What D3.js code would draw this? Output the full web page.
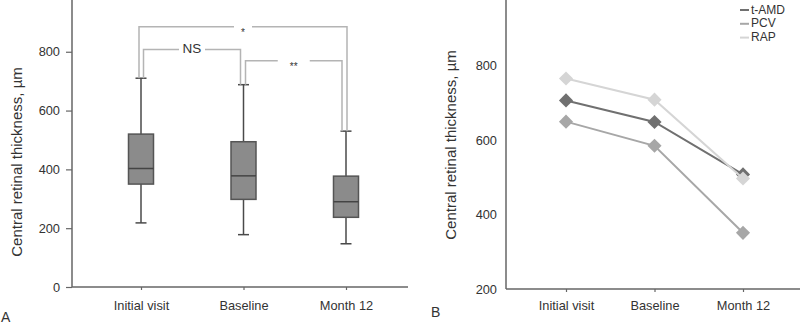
<!DOCTYPE html>
<html>
<head>
<meta charset="utf-8">
<script src="https://cdn.jsdelivr.net/npm/d3@7"></script>
<style>
  body { margin: 0; background: #fff; }
  svg { display: block; font-family: "Liberation Sans", Arial, sans-serif; }
</style>
</head>
<body>
<svg id="chart" width="800" height="326"></svg>
<script>
// ---- data ----
const visits = ['Initial visit', 'Baseline', 'Month 12'];

// box plot stats (panel A)
const whiskerLow  = [218, 178, 147];
const q1          = [350, 298, 237];
const median      = [403, 378, 290];
const q3          = [520, 494, 377];
const whiskerHigh = [710, 688, 530];
const yTicksA = [0, 200, 400, 600, 800];

// significance brackets (panel A): from / to index, bracket height, label
const brFrom  = [0, 0, 1];
const brTo    = [2, 1, 2];
const brLevel = [885, 808, 769];
const brLabel = ['*', 'NS', '**'];

// mean thickness per group (panel B)
const groups = ['t-AMD', 'PCV', 'RAP'];
const tAMD = [707, 649, 508];
const PCV  = [650, 585, 351];
const RAP  = [766, 709, 497];
const yTicksB = [200, 400, 600, 800];

const svg = d3.select('#chart');
const axisCol = '#666';
const textCol = '#333';
const tickFont = '12.8px';
const titleFont = '15px';

function styleText(g, size) {
    g.selectAll('text').attr('fill', textCol).style('font-size', size)
        .style('font-family', '"Liberation Sans", Arial, sans-serif');
}

// ---------- Panel A ----------
const xA = d3.scalePoint().domain(visits).range([141, 346]);
const yA = d3.scaleLinear().domain([0, 976]).range([287, 0]);

const gA = svg.append('g');

// axes
gA.append('line').attr('x1', 72).attr('x2', 72).attr('y1', 0).attr('y2', yA(0))
    .attr('stroke', axisCol).attr('stroke-width', 1.5);
gA.append('line').attr('x1', 72).attr('x2', 408).attr('y1', yA(0)).attr('y2', yA(0))
    .attr('stroke', axisCol).attr('stroke-width', 1.5);

const yaxisA = d3.axisLeft(yA).tickValues(yTicksA).tickSize(6).tickPadding(6);
gA.append('g').attr('transform', 'translate(72,0)').call(yaxisA)
    .call(g => g.select('.domain').remove())
    .call(g => g.selectAll('line').attr('stroke', axisCol).attr('stroke-width', 1.2))
    .call(g => styleText(g, tickFont));

const xaxisA = d3.axisBottom(xA).tickSize(3).tickPadding(11);
gA.append('g').attr('transform', `translate(0,${yA(0)})`).call(xaxisA)
    .call(g => g.select('.domain').remove())
    .call(g => g.selectAll('line').attr('stroke', axisCol).attr('stroke-width', 1.2))
    .call(g => styleText(g, tickFont));

gA.append('text')
    .attr('transform', `translate(18, 162) rotate(-90)`)
    .attr('text-anchor', 'middle')
    .attr('dominant-baseline', 'middle')
    .attr('fill', textCol)
    .style('font-size', titleFont)
    .text('Central retinal thickness, µm');

// boxes
const boxW = 25, capW = 11;
visits.forEach((v, i) => {
    const cx = xA(v);
    const g = gA.append('g');
    g.append('line').attr('x1', cx).attr('x2', cx).attr('y1', yA(whiskerHigh[i])).attr('y2', yA(whiskerLow[i]))
        .attr('stroke', '#4a4a4a').attr('stroke-width', 1.5);
    [whiskerHigh[i], whiskerLow[i]].forEach(w => {
        g.append('line').attr('x1', cx - capW / 2).attr('x2', cx + capW / 2)
            .attr('y1', yA(w)).attr('y2', yA(w))
            .attr('stroke', '#4a4a4a').attr('stroke-width', 1.5);
    });
    g.append('rect').attr('x', cx - boxW / 2).attr('width', boxW)
        .attr('y', yA(q3[i])).attr('height', yA(q1[i]) - yA(q3[i]))
        .attr('fill', '#8b8b8b').attr('stroke', '#555').attr('stroke-width', 1.5);
    g.append('line').attr('x1', cx - boxW / 2).attr('x2', cx + boxW / 2)
        .attr('y1', yA(median[i])).attr('y2', yA(median[i]))
        .attr('stroke', '#444').attr('stroke-width', 1.5);
});

// brackets
const brDx = [[-2, 1], [2.5, -3], [2, -4]];
const brGap = [9, 13, 16];
const brSize = [10, 13.5, 10];
brLabel.forEach((lab, i) => {
    const x1 = xA(visits[brFrom[i]]) + brDx[i][0];
    const x2 = xA(visits[brTo[i]]) + brDx[i][1];
    const yb = yA(brLevel[i]);
    const mid = (x1 + x2) / 2;
    const y1 = yA(whiskerHigh[brFrom[i]]);
    const y2 = yA(whiskerHigh[brTo[i]]);
    const p = `M${x1},${y1}V${yb}H${mid - brGap[i]}M${mid + brGap[i]},${yb}H${x2}V${y2}`;
    gA.append('path').attr('d', p).attr('fill', 'none')
        .attr('stroke', '#b4b4b4').attr('stroke-width', 1.5);
    const t = gA.append('text').attr('x', mid).attr('text-anchor', 'middle')
        .attr('fill', textCol).style('font-size', brSize[i] + 'px').text(lab);
    if (lab === 'NS') t.attr('y', yb + 0.5).attr('dominant-baseline', 'middle');
    else t.attr('y', yb + 9);
});

svg.append('text').attr('x', 1).attr('y', 322).attr('fill', textCol)
    .style('font-size', '14px').text('A');

// ---------- Panel B ----------
const xB = d3.scalePoint().domain(visits).range([566, 743]);
const yB = d3.scaleLinear().domain([200, 977]).range([289, 0]);

const gB = svg.append('g');
gB.append('line').attr('x1', 506).attr('x2', 506).attr('y1', 0).attr('y2', yB(200))
    .attr('stroke', axisCol).attr('stroke-width', 1.5);
gB.append('line').attr('x1', 506).attr('x2', 800).attr('y1', yB(200)).attr('y2', yB(200))
    .attr('stroke', axisCol).attr('stroke-width', 1.5);

const yaxisB = d3.axisLeft(yB).tickValues(yTicksB).tickSize(0).tickPadding(9);
gB.append('g').attr('transform', 'translate(506,0)').call(yaxisB)
    .call(g => g.select('.domain').remove())
    .call(g => styleText(g, tickFont));

const xaxisB = d3.axisBottom(xB).tickSize(3).tickPadding(9);
gB.append('g').attr('transform', `translate(0,${yB(200)})`).call(xaxisB)
    .call(g => g.select('.domain').remove())
    .call(g => g.selectAll('line').attr('stroke', axisCol).attr('stroke-width', 1.2))
    .call(g => styleText(g, tickFont));

gB.append('text')
    .attr('transform', `translate(452, 145) rotate(-90)`)
    .attr('text-anchor', 'middle')
    .attr('dominant-baseline', 'middle')
    .attr('fill', textCol)
    .style('font-size', titleFont)
    .text('Central retinal thickness, µm');

const series = [tAMD, PCV, RAP];
const colors = ['#707070', '#a7a7a7', '#d5d5d5'];
const line = d3.line().x((d, i) => xB(visits[i])).y(d => yB(d));
const diamond = d3.symbol().type(d3.symbolSquare).size(100);

series.forEach((vals, s) => {
    gB.append('path').datum(vals).attr('d', line)
        .attr('fill', 'none').attr('stroke', colors[s]).attr('stroke-width', 2);
    gB.selectAll(null).data(vals).join('path')
        .attr('d', diamond)
        .attr('transform', (d, i) => `translate(${xB(visits[i])},${yB(d)}) rotate(45)`)
        .attr('fill', colors[s]);
});

// legend
const legStep = 13.8;
const leg = gB.append('g').attr('transform', 'translate(740,10)');
groups.forEach((name, i) => {
    leg.append('line').attr('x1', 0).attr('x2', 9).attr('y1', i * legStep).attr('y2', i * legStep)
        .attr('stroke', colors[i]).attr('stroke-width', 2);
    leg.append('text').attr('x', 11).attr('y', i * legStep + 0.5).attr('dominant-baseline', 'middle')
        .attr('fill', textCol).style('font-size', '12px').text(name);
});

svg.append('text').attr('x', 431).attr('y', 317).attr('fill', textCol)
    .style('font-size', '14px').text('B');
</script>
</body>
</html>
